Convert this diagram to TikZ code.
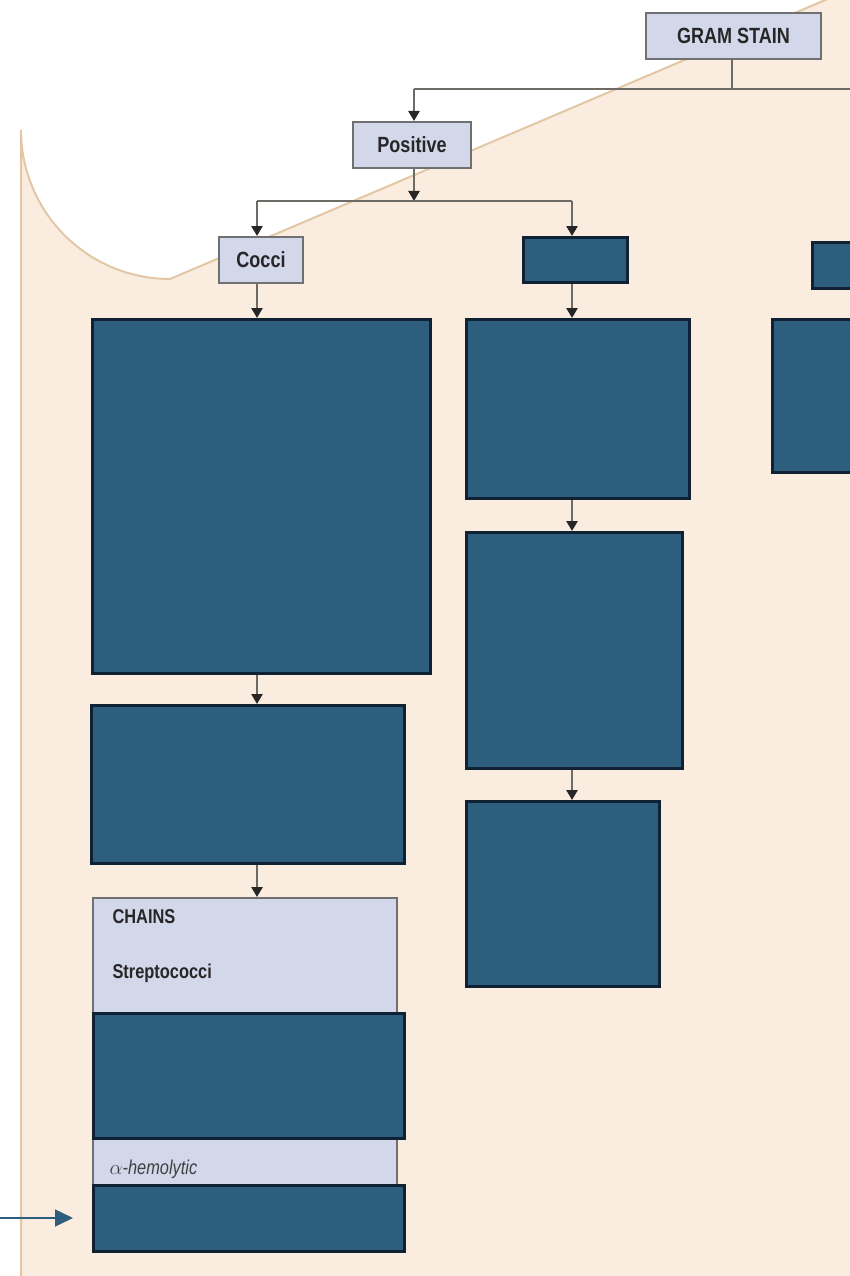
\documentclass[tikz,border=0pt]{standalone}
\usepackage{fontspec}
\setmainfont{Liberation Sans}
\usetikzlibrary{arrows.meta}
\definecolor{panel}{HTML}{FAECDF}
\definecolor{panelb}{HTML}{E3C6A4}
\definecolor{lav}{HTML}{D3D7EA}
\definecolor{lavb}{HTML}{707070}
\definecolor{dark}{HTML}{2E5E7E}
\definecolor{darkb}{HTML}{0F2233}
\definecolor{conn}{HTML}{6E6A66}
\begin{document}
\begin{tikzpicture}[x=1pt,y=-1pt,
  lbox/.style={draw=lavb,fill=lav,line width=2pt,inner sep=0pt,anchor=north west},
  dbox/.style={draw=darkb,fill=dark,line width=2.5pt,inner sep=0pt,anchor=north west},
  lbl/.style={font=\addfontfeatures{FakeStretch=0.82}\bfseries\fontsize{22}{24}\selectfont,text=black!85},
  conn/.style={draw=conn,line width=2.5pt},
  arr/.style={conn,-{Triangle[length=10pt,width=11pt,fill=black!85,color=black!85]}}]
\useasboundingbox (0,0) rectangle (850,1276);
\fill[panel] (20,1290) -- (20,130) arc[start angle=180,end angle=90,radius=150] -- (870,-20) -- (870,1290) -- cycle;
\draw[panelb,line width=2pt] (21,1290) -- (21,130) arc[start angle=180,end angle=90,radius=149] -- (870,-19);
% light boxes
\node[lbox,minimum width=175pt,minimum height=46pt] (gram) at (645,12) {};
\node[lbl] at (gram.center) {GRAM STAIN};
\node[lbox,minimum width=118pt,minimum height=46pt] (pos) at (352,121) {};
\node[lbl] at (pos.center) {Positive};
\node[lbox,minimum width=84pt,minimum height=46pt] (cocci) at (218,236) {};
\node[lbl] at (cocci.center) {Cocci};
\node[lbox,minimum width=304pt,minimum height=353pt] (chains) at (92,897) {};
\node[lbl,anchor=west,font=\addfontfeatures{FakeStretch=0.82}\bfseries\fontsize{20}{22}\selectfont] (tc) at (109,917) {CHAINS};
\node[lbl,anchor=west,font=\addfontfeatures{FakeStretch=0.82}\bfseries\fontsize{20}{22}\selectfont] (ts) at (109,973) {Streptococci};
\node[anchor=west,text=black!75,font=\addfontfeatures{FakeStretch=0.82}\fontsize{20}{22}\selectfont] (ta) at (106,1169) {$\alpha$\textit{-hemolytic}};
% dark boxes
\node[dbox,minimum width=338pt,minimum height=354pt] (d1) at (91,318) {};
\node[dbox,minimum width=313pt,minimum height=158pt] (d2) at (90,704) {};
\node[dbox,minimum width=104pt,minimum height=45pt] (d3) at (522,236) {};
\node[dbox,minimum width=223pt,minimum height=179pt] (d4) at (465,318) {};
\node[dbox,minimum width=216pt,minimum height=236pt] (d5) at (465,531) {};
\node[dbox,minimum width=193pt,minimum height=185pt] (d6) at (465,800) {};
\node[dbox,minimum width=60pt,minimum height=46pt] (d7) at (811,241) {};
\node[dbox,minimum width=100pt,minimum height=153pt] (d8) at (771,318) {};
\node[dbox,minimum width=311pt,minimum height=125pt] (d9) at (92,1012) {};
\node[dbox,minimum width=311pt,minimum height=66pt] (d10) at (92,1184) {};
% connectors
\coordinate (j1) at (732,89);
\coordinate (j1r) at (860,89);
\coordinate (j1l) at (414,89);
\coordinate (j2) at (414,201);
\coordinate (j2l) at (257,201);
\coordinate (j2r) at (572,201);
\draw[conn] (gram.south -| j1) -- (j1);
\draw[conn] (j1r) -- (j1l);
\draw[arr] (j1l) -- (pos.north -| j1l);
\draw[arr] (pos.south -| j2) -- (j2);
\draw[conn] (j2l) -- (j2r);
\draw[arr] (j2l) -- (cocci.north -| j2l);
\draw[arr] (j2r) -- (d3.north -| j2r);
\draw[arr] (cocci.south -| j2l) -- (d1.north -| j2l);
\draw[arr] (d1.south -| j2l) -- (d2.north -| j2l);
\draw[arr] (d2.south -| j2l) -- (chains.north -| j2l);
\draw[arr] (d3.south -| j2r) -- (d4.north -| j2r);
\draw[arr] (d4.south -| j2r) -- (d5.north -| j2r);
\draw[arr] (d5.south -| j2r) -- (d6.north -| j2r);
\coordinate (ls) at (0,1218);
\draw[dark,line width=1.5pt,-{Triangle[length=18pt,width=17pt]}] (ls) -- (73,1218);
\end{tikzpicture}
\end{document}
